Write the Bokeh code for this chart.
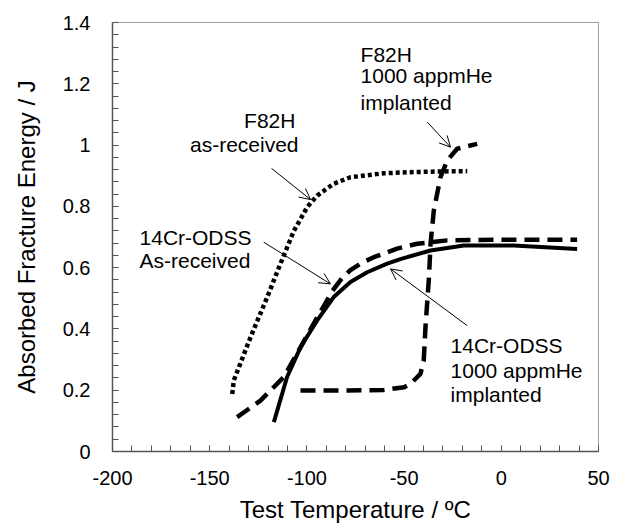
from bokeh.plotting import figure
from bokeh.models import (FixedTicker, CustomJSTickFormatter, Range1d, Arrow, OpenHead)
from bokeh.core.properties import value
from bokeh.embed import file_html
from bokeh.resources import INLINE

# F82H as-received (dotted)
f82h_ar_x = [-138.4, -137.6, -129.0, -120.4, -113.6, -106.7, -99.9, -94.7, -86.2, -77.6, -60.4, -45.0, -30.0, -17.5]
f82h_ar_y = [0.188, 0.232, 0.373, 0.504, 0.613, 0.720, 0.797, 0.835, 0.874, 0.895, 0.908, 0.912, 0.914, 0.915]

# 14Cr-ODSS as-received (dashed)
odss_ar_x = [-135.9, -123.9, -111.9, -103.3, -94.7, -86.2, -82.0, -77.6, -72.0, -65.6, -53.6, -43.3, -27.8, 0.0, 39.0]
odss_ar_y = [0.112, 0.166, 0.243, 0.340, 0.438, 0.530, 0.565, 0.592, 0.615, 0.634, 0.662, 0.678, 0.689, 0.691, 0.691]

# 14Cr-ODSS 1000 appmHe implanted (solid)
odss_he_x = [-117.0, -110.2, -103.3, -94.7, -86.2, -77.6, -69.0, -58.7, -51.9, -36.4, -19.3, 6.4, 39.0]
odss_he_y = [0.096, 0.243, 0.340, 0.428, 0.504, 0.553, 0.585, 0.613, 0.628, 0.656, 0.672, 0.672, 0.661]

# F82H 1000 appmHe implanted (dashed)
f82h_he_x = [-103.3, -80.0, -60.4, -50.0, -46.7, -41.6, -39.9, -39.0, -37.2, -36.4, -34.7, -31.3, -27.8, -22.7, -12.4]
f82h_he_y = [0.199, 0.199, 0.201, 0.210, 0.221, 0.253, 0.297, 0.406, 0.569, 0.678, 0.787, 0.895, 0.950, 0.988, 1.004]

x_major = [-200, -150, -100, -50, 0, 50]
y_major = [0.0, 0.2, 0.4, 0.6, 0.8, 1.0, 1.2, 1.4]

p = figure(width=618, height=528, output_backend="svg", toolbar_location=None,
           x_range=Range1d(-200, 50), y_range=Range1d(0, 1.4),
           min_border_left=112, min_border_right=20, min_border_top=22, min_border_bottom=77)
p.background_fill_color = "white"
p.border_fill_color = "white"
p.outline_line_color = "#a0a0a0"
p.outline_line_width = 1
p.xgrid.visible = False
p.ygrid.visible = False

p.xaxis.ticker = FixedTicker(ticks=x_major, minor_ticks=list(range(-200, 51, 10)))
p.yaxis.ticker = FixedTicker(ticks=y_major, minor_ticks=[i * 0.04 for i in range(36)])
p.xaxis.formatter = CustomJSTickFormatter(code="return tick.toFixed(0);")
p.yaxis.formatter = CustomJSTickFormatter(code="return (Math.round(tick*10)/10).toString();")

for ax in (p.xaxis[0], p.yaxis[0]):
    ax.axis_line_color = "#555555"
    ax.axis_line_width = 1.5
    ax.major_tick_line_color = "#555555"
    ax.minor_tick_line_color = "#555555"
    ax.major_tick_in = 6
    ax.major_tick_out = 0
    ax.minor_tick_in = 6
    ax.minor_tick_out = 0
    ax.major_label_text_font = "Liberation Sans"
    ax.major_label_text_font_size = "20px"
    ax.major_label_text_color = "black"
    ax.axis_label_text_font = "Liberation Sans"
    ax.axis_label_text_font_size = "24px"
    ax.axis_label_text_font_style = "normal"
    ax.axis_label_text_color = "black"

p.xaxis.axis_label = "Test Temperature / ºC"
p.yaxis.axis_label = "Absorbed Fracture Energy / J"
p.xaxis.major_label_standoff = 19
p.yaxis.major_label_standoff = 22
p.xaxis.axis_label_standoff = 8
p.yaxis.axis_label_standoff = 20

p.line(f82h_ar_x, f82h_ar_y, line_color="black", line_width=4.5, line_dash="4 3")
p.line(odss_ar_x, odss_ar_y, line_color="black", line_width=4.5, line_dash="15 8")
p.line(odss_he_x, odss_he_y, line_color="black", line_width=4)
p.line(f82h_he_x, f82h_he_y, line_color="black", line_width=4.5, line_dash="15 8")

def lab(x, y, t, align="left"):
    p.text(x=[x], y=[y], text=[t], text_font=value("Liberation Sans"), text_font_size="21px",
           text_color="black", text_align=align, text_baseline="alphabetic", y_offset=-8)

lab(-105.9, 1.054, "F82H", "right")
lab(-104.3, 0.976, "as-received", "right")
lab(-186.1, 0.672, "14Cr-ODSS")
lab(-186.1, 0.597, "As-received")
lab(-72.4, 1.270, "F82H")
lab(-72.4, 1.201, "1000 appmHe")
lab(-72.4, 1.113, "implanted")
lab(-26.1, 0.320, "14Cr-ODSS")
lab(-26.1, 0.238, "1000 appmHe")
lab(-26.1, 0.160, "implanted")

def arr(x0, y0, x1, y1):
    p.add_layout(Arrow(x_start=x0, y_start=y0, x_end=x1, y_end=y1, line_color="black", line_width=1,
                       end=OpenHead(size=11, line_color="black", line_width=1)))

arr(-118.2, 0.924, -98.1, 0.822)
arr(-122.2, 0.683, -87.9, 0.547)
arr(-38.1, 1.075, -26.1, 0.993)
arr(-17.6, 0.411, -57.0, 0.596)

open("out.html", "w").write(file_html(p, INLINE))
